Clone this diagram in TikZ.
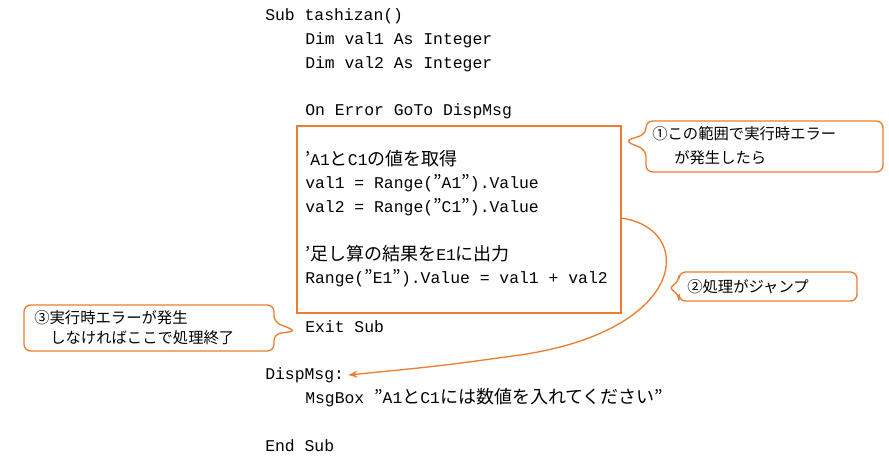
\documentclass[tikz,border=0pt]{standalone}
\usepackage{fontspec}
\setmainfont{Noto Sans CJK JP}
\newfontfamily\codefont{Liberation Mono}
\newcommand{\jp}[1]{{\fontsize{13.5}{16}\selectfont\rmfamily #1}}
\usetikzlibrary{arrows.meta}
\definecolor{accent}{HTML}{ED7D31}
\begin{document}
\begin{tikzpicture}[x=0.75pt,y=-0.75pt,
    code/.style={anchor=west,inner sep=0pt,font=\codefont\fontsize{12.3}{16}\selectfont},
    note/.style={anchor=west,inner sep=0pt,font=\fontsize{11.5}{14}\selectfont},
    callout/.style={draw=accent,fill=white,line width=1pt,rounded corners=5pt}]
    \useasboundingbox (0,0) rectangle (889,458);
    % code lines
    \node[code] (sub) at (265,16) {Sub tashizan()};
    \node[code] (dim1) at (305,40) {Dim val1 As Integer};
    \node[code] (dim2) at (305,64) {Dim val2 As Integer};
    \node[code] (onerr) at (305,111) {On Error GoTo DispMsg};
    \node[code] (com1) at (305,159) {\jp{'}A1\jp{と}C1\jp{の値を取得}};
    \node[code] (val1) at (305,183) {val1 = Range(\jp{"}A1\jp{"}).Value};
    \node[code] (val2) at (305,207) {val2 = Range(\jp{"}C1\jp{"}).Value};
    \node[code] (com2) at (305,254) {\jp{'足し算の結果を}E1\jp{に出力}};
    \node[code] (rng) at (305,278) {Range(\jp{"}E1\jp{"}).Value = val1 + val2};
    \node[code] (exit) at (305,327) {Exit Sub};
    \node[code] (disp) at (265,375) {DispMsg:};
    \node[code] (msg) at (305,398) {MsgBox \jp{"}A1\jp{と}C1\jp{には数値を入れてください"}};
    \node[code] (endsub) at (265,446) {End Sub};
    % range box
    \draw[accent,line width=1pt] (297,126) rectangle (621,313);
    % jump arrow
    \draw[accent,line width=1pt,-{Stealth[length=7pt]}] (621,218)
        .. controls (695,228) and (690,330) .. (520,355)
        .. controls (440,366) .. ([xshift=3pt]disp.east);
    % callouts
    \draw[callout] (646,121) -- (883,121) -- (883,172) -- (646,172) -- (646,150)
        -- (625,141) -- (646,134) -- cycle;
    \node[note] (n1a) at (652,134) {①この範囲で実行時エラー};
    \node[note] (n1b) at (674,158) {が発生したら};
    \draw[callout] (679,272) -- (857,272) -- (857,301) -- (679,301) -- (679,294)
        -- (668,288) -- (679,282) -- cycle;
    \node[note] (n2) at (687,287) {②処理がジャンプ};
    \draw[callout] (24,305) -- (274,305) -- (274,322) -- (296,331) -- (274,334)
        -- (274,351) -- (24,351) -- cycle;
    \node[note] (n3a) at (34,318) {③実行時エラーが発生};
    \node[note] (n3b) at (50,338) {しなければここで処理終了};
\end{tikzpicture}
\end{document}
